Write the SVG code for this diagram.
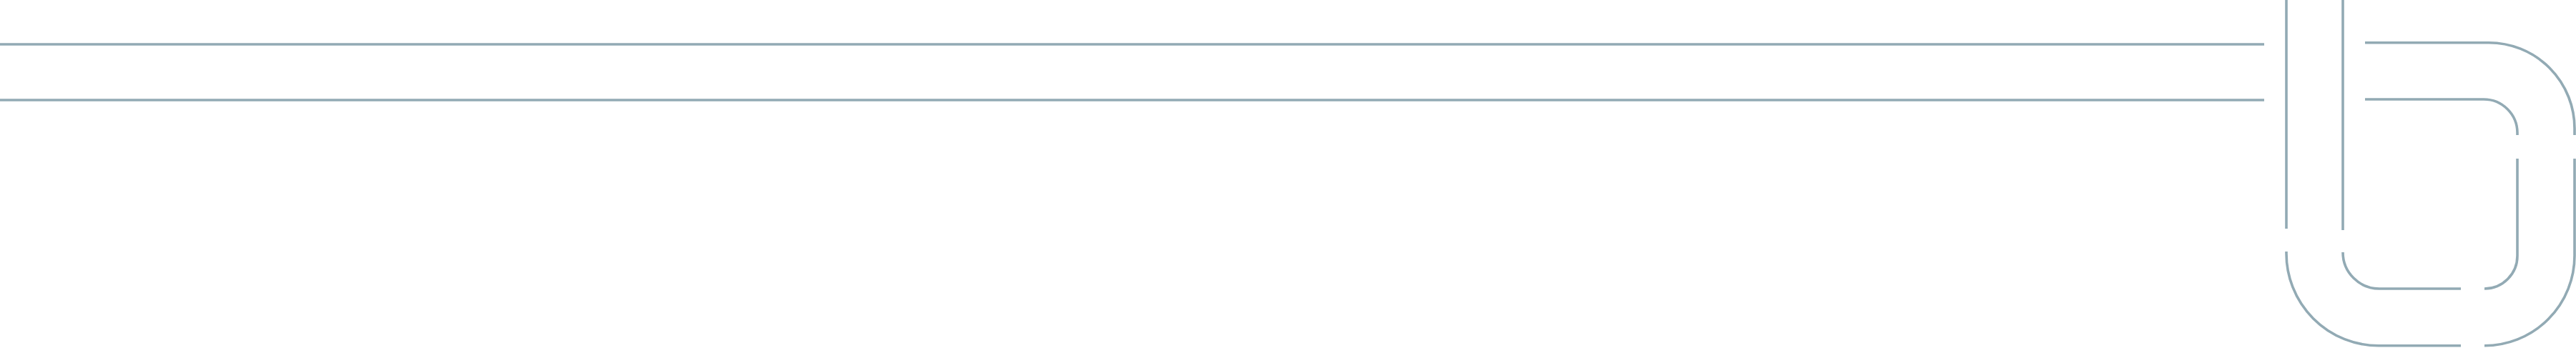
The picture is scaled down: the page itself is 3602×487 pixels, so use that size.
<svg xmlns="http://www.w3.org/2000/svg" width="3602" height="487" viewBox="0 0 3602 487">
  <style>
    .ln { fill: none; stroke: #92aab4; stroke-width: 3.6; stroke-linecap: butt; }
  </style>
  <rect width="3602" height="487" fill="#ffffff"/>
  <g id="connectors">
    <path class="ln" d="M0,62 H3166"/>
    <path class="ln" d="M0,140 H3166"/>
  </g>
  <g id="outer-shape">
    <path class="ln" d="M3197,0 V320"/>
    <path class="ln" d="M3197,352 V354 A129,129 0 0 0 3326,483.7 H3441"/>
    <path class="ln" d="M3474,483.7 A126,126 0 0 0 3600,357.7 V222"/>
    <path class="ln" d="M3600,189 V180 A120,120 0 0 0 3480,59.7 H3307"/>
  </g>
  <g id="inner-shape">
    <path class="ln" d="M3276,0 V322"/>
    <path class="ln" d="M3276,353 A51,51 0 0 0 3327,404 H3441"/>
    <path class="ln" d="M3474,404 A46,46 0 0 0 3520,358 V222"/>
    <path class="ln" d="M3520,189 V186 A47,47 0 0 0 3473,139 H3307"/>
  </g>
</svg>
